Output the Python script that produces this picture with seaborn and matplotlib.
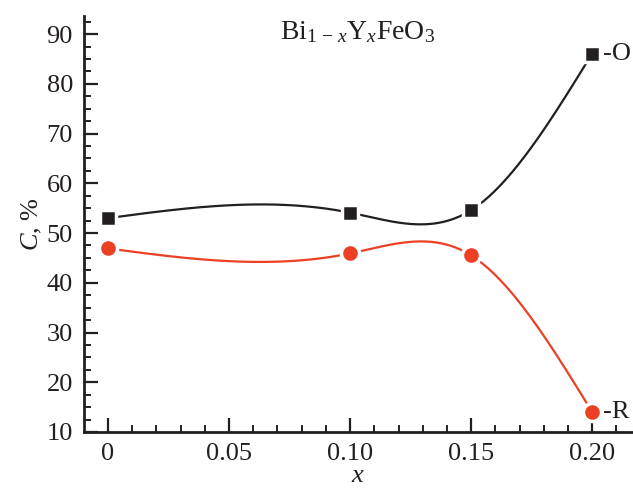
import numpy as np
import pandas as pd
import matplotlib
matplotlib.use("Agg")
import matplotlib.pyplot as plt
import seaborn as sns
from matplotlib.ticker import MultipleLocator

# Data
x_vals = [0.0, 0.10, 0.15, 0.20]
c_O = [53.0, 54.1, 54.6, 86.1]
c_R = [46.9, 45.9, 45.5, 14.0]
x_ticks = [0, 0.05, 0.10, 0.15, 0.20]
x_ticklabels = ["0", "0.05", "0.10", "0.15", "0.20"]


def natural_spline(xs, ys, n=300):
    # natural cubic spline through the points, for the smooth connecting line
    xs = np.asarray(xs, float)
    ys = np.asarray(ys, float)
    k = len(xs)
    h = np.diff(xs)
    A = np.zeros((k, k))
    b = np.zeros(k)
    A[0, 0] = A[-1, -1] = 1
    for i in range(1, k - 1):
        A[i, i - 1] = h[i - 1]
        A[i, i] = 2 * (h[i - 1] + h[i])
        A[i, i + 1] = h[i]
        b[i] = 6 * ((ys[i + 1] - ys[i]) / h[i] - (ys[i] - ys[i - 1]) / h[i - 1])
    M = np.linalg.solve(A, b)
    xx = np.linspace(xs[0], xs[-1], n)
    idx = np.clip(np.searchsorted(xs, xx) - 1, 0, k - 2)
    x0, x1 = xs[idx], xs[idx + 1]
    hh = x1 - x0
    yy = (M[idx] * (x1 - xx) ** 3 / (6 * hh) + M[idx + 1] * (xx - x0) ** 3 / (6 * hh)
          + (ys[idx] / hh - M[idx] * hh / 6) * (x1 - xx)
          + (ys[idx + 1] / hh - M[idx + 1] * hh / 6) * (xx - x0))
    return xx, yy


sns.set_style("ticks")
plt.rcParams["font.family"] = ["Liberation Serif", "DejaVu Serif"]
plt.rcParams["mathtext.fontset"] = "custom"
plt.rcParams["mathtext.rm"] = "Liberation Serif"
plt.rcParams["mathtext.it"] = "Liberation Serif:italic"
plt.rcParams["xtick.direction"] = "in"
plt.rcParams["ytick.direction"] = "in"

black = "#231f20"
red = "#ec4025"

fig = plt.figure(figsize=(6.33, 4.88), dpi=100)
ax = fig.add_axes([0.1327, 0.1148, 0.866, 0.852])

xo, yo = natural_spline(x_vals, c_O)
xr, yr = natural_spline(x_vals, c_R)
sns.lineplot(x=xo, y=yo, ax=ax, color=black, linewidth=1.6, zorder=2)
sns.lineplot(x=xr, y=yr, ax=ax, color=red, linewidth=1.6, zorder=2)

df = pd.DataFrame({"x": x_vals, "O": c_O, "R": c_R})
sns.scatterplot(data=df, x="x", y="O", ax=ax, marker="s", s=125, color=black,
                edgecolor="white", linewidth=2.5, zorder=3)
sns.scatterplot(data=df, x="x", y="R", ax=ax, marker="o", s=170, color=red,
                edgecolor="white", linewidth=2.5, zorder=3)

ax.text(0.2045, c_O[-1], "-O", fontsize=19, color=black, va="center", ha="left")
ax.text(0.2045, c_R[-1], "-R", fontsize=19, color=black, va="center", ha="left")
ax.text(0.103, 90.3, r"Bi$_{1\,-\,x}$Y$_x$FeO$_3$", fontsize=20, color=black,
        ha="center", va="center")

ax.set_xlim(-0.0099, 0.2165)
ax.set_ylim(10, 93.6)
ax.set_xticks(x_ticks)
ax.set_xticklabels(x_ticklabels)
ax.set_yticks(range(10, 91, 10))
ax.xaxis.set_minor_locator(MultipleLocator(0.01))
ax.yaxis.set_minor_locator(MultipleLocator(2.5))

ax.set_xlabel("$x$", fontsize=19, color=black, labelpad=0)
ax.set_ylabel("$C$, %", fontsize=19, color=black, labelpad=2)

for side in ["top", "right"]:
    ax.spines[side].set_visible(False)
for side in ["left", "bottom"]:
    ax.spines[side].set_linewidth(2)
    ax.spines[side].set_color(black)

ax.tick_params(which="major", direction="in", length=10, width=1.6, colors=black,
               labelsize=19, pad=8)
ax.tick_params(which="minor", direction="in", length=5, width=1.4, colors=black)

plt.savefig("out.png", dpi=100)
